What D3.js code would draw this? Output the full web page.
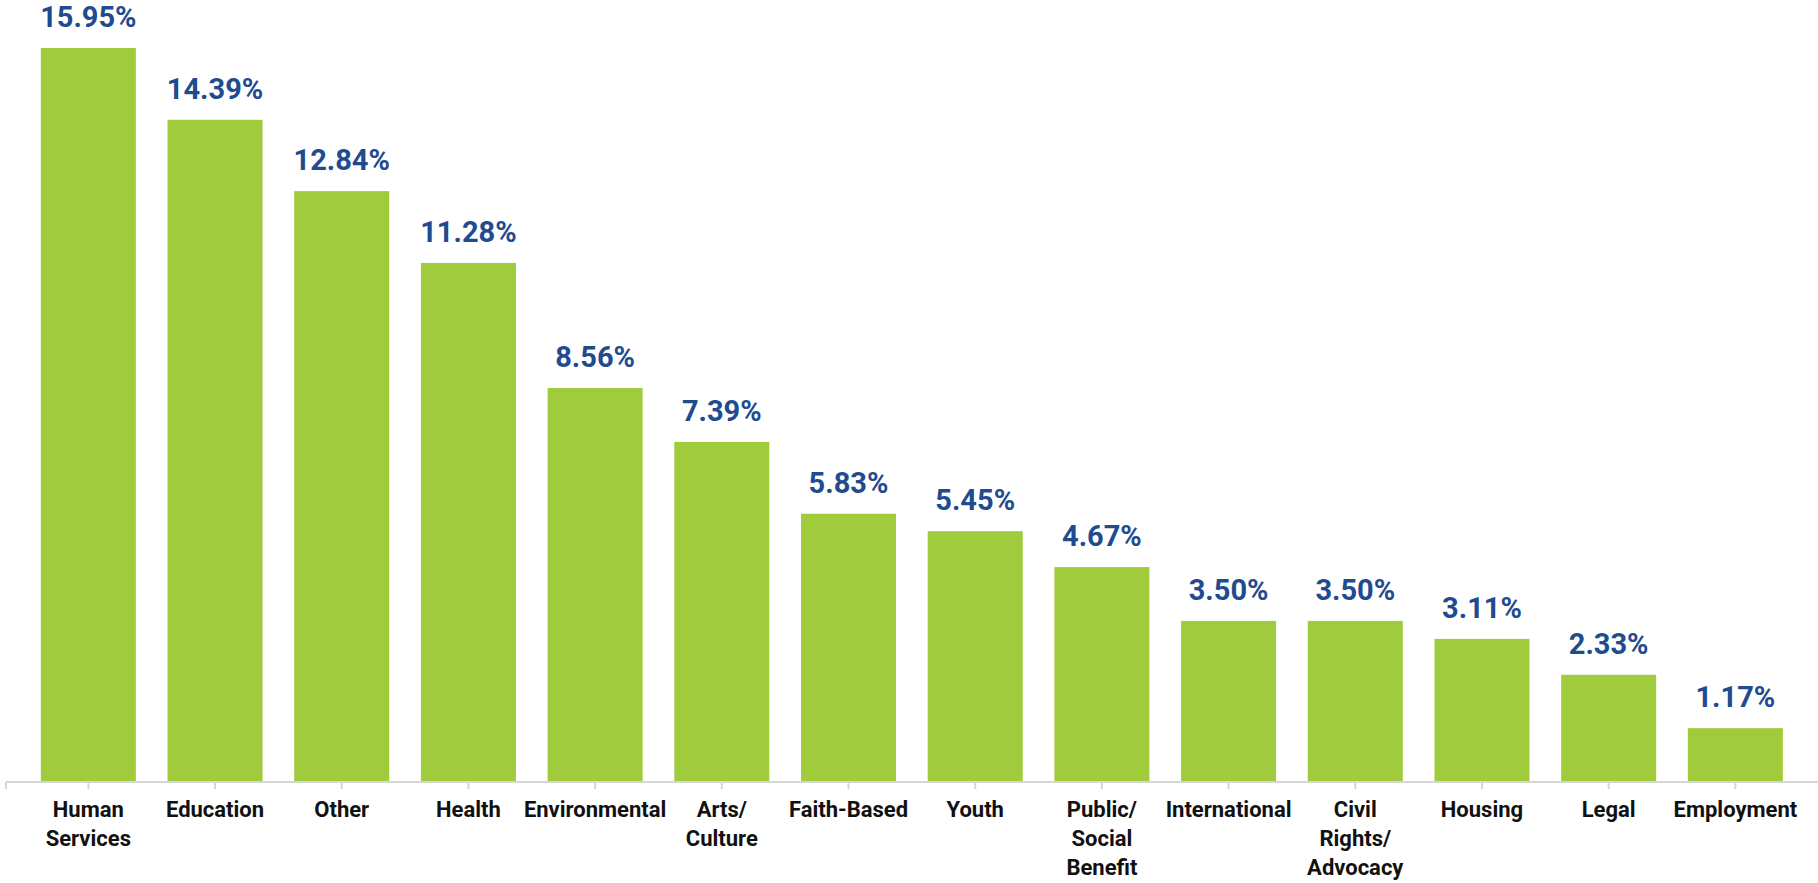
<!DOCTYPE html>
<html>
<head>
<meta charset="utf-8">
<script src="https://cdn.jsdelivr.net/npm/d3@7"></script>
<style>
  html, body { margin: 0; padding: 0; background: #ffffff; }
  svg { display: block; }
</style>
</head>
<body>
<svg id="chart" width="1818" height="883"></svg>
<script>
// Share of organizations by sector (percent)
const categories = [
  "Human Services", "Education", "Other", "Health", "Environmental",
  "Arts/ Culture", "Faith-Based", "Youth", "Public/ Social Benefit",
  "International", "Civil Rights/ Advocacy", "Housing", "Legal", "Employment"
];
// Category labels broken into lines as displayed under the axis
const labelLines = [
  ["Human", "Services"], ["Education"], ["Other"], ["Health"], ["Environmental"],
  ["Arts/", "Culture"], ["Faith-Based"], ["Youth"], ["Public/", "Social", "Benefit"],
  ["International"], ["Civil", "Rights/", "Advocacy"], ["Housing"], ["Legal"], ["Employment"]
];
const values = [15.95, 14.39, 12.84, 11.28, 8.56, 7.39, 5.83, 5.45, 4.67, 3.50, 3.50, 3.11, 2.33, 1.17];

const svg = d3.select("#chart");
const baseY = 782;

const x = d3.scaleBand()
  .domain(categories)
  .range([25, 1798.7])
  .paddingInner(0.25)
  .paddingOuter(0.125);

const y = d3.scaleLinear()
  .domain([0, 15.95])
  .range([baseY, 48]);

const data = categories.map((c, i) => ({ cat: c, value: values[i], lines: labelLines[i] }));

// Bars
svg.append("g")
  .selectAll("rect")
  .data(data)
  .join("rect")
  .attr("x", d => x(d.cat))
  .attr("y", d => y(d.value))
  .attr("width", x.bandwidth())
  .attr("height", d => y(0) - y(d.value))
  .attr("fill", "#a0cb3c");

// Baseline axis with ticks at each category centre
const axis = svg.append("g").attr("stroke", "#d6d6d6").attr("stroke-width", 2);
axis.append("line")
  .attr("x1", 6).attr("x2", 1818)
  .attr("y1", baseY).attr("y2", baseY);
axis.append("line")
  .attr("x1", 6).attr("x2", 6)
  .attr("y1", baseY).attr("y2", baseY + 7);
axis.selectAll("line.tick")
  .data(categories)
  .join("line")
  .attr("class", "tick")
  .attr("x1", d => x(d) + x.bandwidth() / 2)
  .attr("x2", d => x(d) + x.bandwidth() / 2)
  .attr("y1", baseY).attr("y2", baseY + 7);

// Value labels above bars
svg.append("g")
  .selectAll("text")
  .data(data)
  .join("text")
  .attr("x", d => x(d.cat) + x.bandwidth() / 2)
  .attr("y", d => y(d.value) - 21)
  .attr("text-anchor", "middle")
  .attr("font-family", "Roboto, 'DejaVu Sans', sans-serif")
  .attr("font-weight", 700)
  .attr("font-size", 29)
  .attr("fill", "#1f4b8f")
  .text(d => d.value.toFixed(2) + "%");

// Category labels below the axis
const catLabels = svg.append("g")
  .selectAll("text")
  .data(data)
  .join("text")
  .attr("x", d => x(d.cat) + x.bandwidth() / 2)
  .attr("y", 817)
  .attr("text-anchor", "middle")
  .attr("font-family", "Roboto, 'DejaVu Sans', sans-serif")
  .attr("font-weight", 700)
  .attr("font-size", 22)
  .attr("fill", "#111111");

catLabels.selectAll("tspan")
  .data(d => d.lines.map(l => ({ l, cx: x(d.cat) + x.bandwidth() / 2 })))
  .join("tspan")
  .attr("x", d => d.cx)
  .attr("dy", (d, i) => i === 0 ? 0 : 29)
  .text(d => d.l);
</script>
</body>
</html>
